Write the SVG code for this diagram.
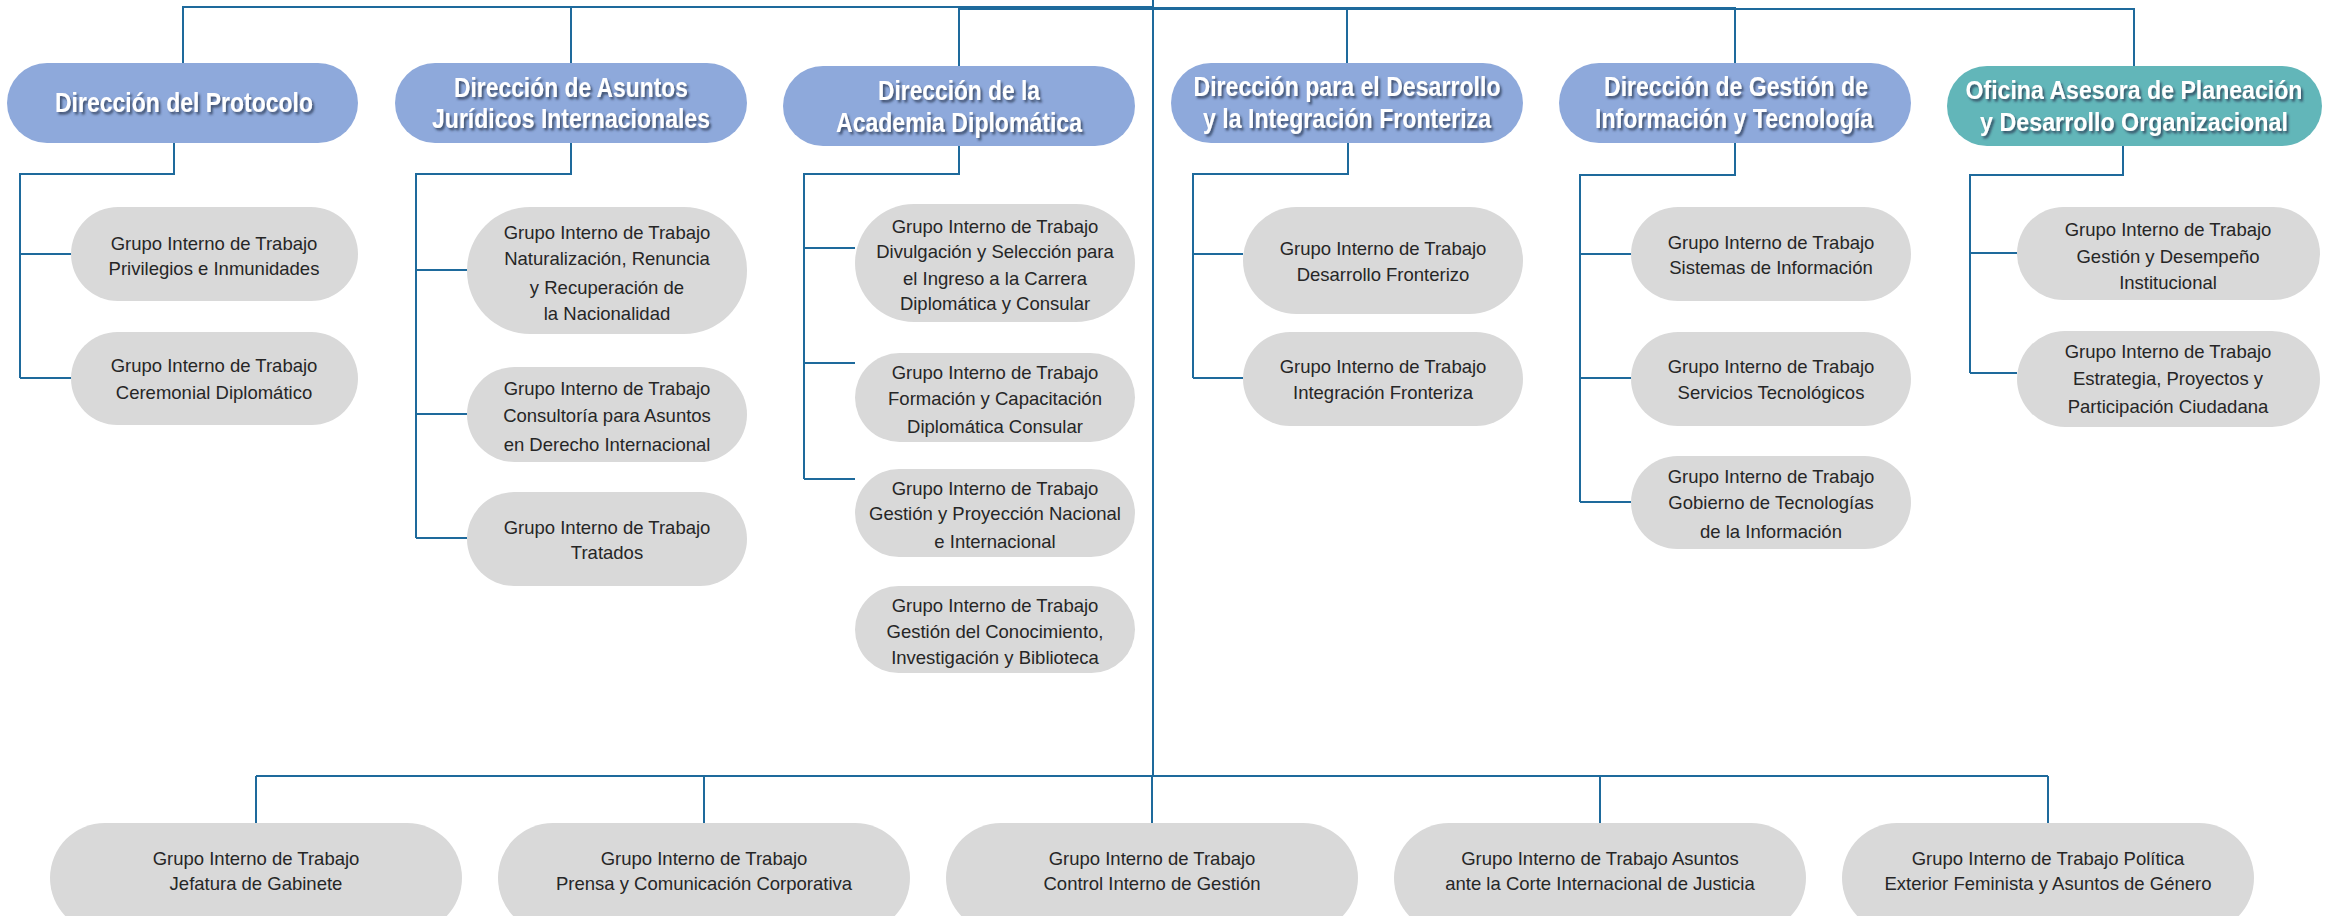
<svg xmlns="http://www.w3.org/2000/svg" width="2331" height="916" viewBox="0 0 2331 916">
<defs>
<filter id="ts" x="-10%" y="-30%" width="130%" height="180%">
<feDropShadow dx="2" dy="2.5" stdDeviation="1.2" flood-color="#2a3550" flood-opacity="0.75"/>
</filter>
<style>
.hd{fill:#8EA9DB}
.hd2{fill:#62B6B9}
.gb{fill:#D9D9D9}
.ht{font-family:"Liberation Sans Narrow","Liberation Sans",Arial,sans-serif;font-weight:bold;font-size:28px;fill:#ffffff;text-anchor:middle;filter:url(#ts)}
.ht6{font-size:25px}
.gt{font-family:"Liberation Sans",Arial,sans-serif;font-size:18.5px;fill:#262626;text-anchor:middle}
.cn{fill:none;stroke:#1E6A9C;stroke-width:2}
</style>
</defs>
<rect width="2331" height="916" fill="#ffffff"/>
<g id="connectors" class="cn">
<path d="M1153 0V776"/>
<path d="M1153 7H183V63"/>
<path d="M1153 7H571V63"/>
<path d="M1153 9H959V66"/>
<path d="M1153 8H1347V63"/>
<path d="M1153 8H1735V63"/>
<path d="M1153 9H2134V66"/>
<path d="M174 143V174H20V378M20 254H71M20 378H71"/>
<path d="M571 143V174H416V538M416 270H467M416 414H467M416 538H467"/>
<path d="M959 146V174H804V479M804 248H855M804 363H855M804 479H855"/>
<path d="M1348 143V174H1193V378M1193 254H1243M1193 378H1243"/>
<path d="M1735 143V175H1580V502M1580 254H1631M1580 378H1631M1580 502H1631"/>
<path d="M2123 146V175H1970V373M1970 253H2017M1970 373H2017"/>
<path d="M256 776H2048M256 776V823M704 776V823M1152 776V823M1600 776V823M2048 776V823"/>
</g>
<g id="h1"><rect class="hd" x="7" y="63" width="351" height="80" rx="40"/><text class="ht" x="184" y="112" textLength="258" lengthAdjust="spacingAndGlyphs">Dirección del Protocolo</text></g>
<g id="h2"><rect class="hd" x="395" y="63" width="352" height="80" rx="40"/><text class="ht" x="571" y="97" textLength="234" lengthAdjust="spacingAndGlyphs">Dirección de Asuntos</text><text class="ht" x="571" y="128" textLength="278" lengthAdjust="spacingAndGlyphs">Jurídicos Internacionales</text></g>
<g id="h3"><rect class="hd" x="783" y="66" width="352" height="80" rx="40"/><text class="ht" x="959" y="100" textLength="162" lengthAdjust="spacingAndGlyphs">Dirección de la</text><text class="ht" x="959" y="132" textLength="246" lengthAdjust="spacingAndGlyphs">Academia Diplomática</text></g>
<g id="h4"><rect class="hd" x="1171" y="63" width="352" height="80" rx="40"/><text class="ht" x="1347" y="96" textLength="307" lengthAdjust="spacingAndGlyphs">Dirección para el Desarrollo</text><text class="ht" x="1347" y="128" textLength="288" lengthAdjust="spacingAndGlyphs">y la Integración Fronteriza</text></g>
<g id="h5"><rect class="hd" x="1559" y="63" width="352" height="80" rx="40"/><text class="ht" x="1736" y="96" textLength="264" lengthAdjust="spacingAndGlyphs">Dirección de Gestión de</text><text class="ht" x="1734" y="128" textLength="278" lengthAdjust="spacingAndGlyphs">Información y Tecnología</text></g>
<g id="h6"><rect class="hd2" x="1947" y="66" width="375" height="80" rx="40"/><text class="ht ht6" x="2134" y="99" textLength="337" lengthAdjust="spacingAndGlyphs">Oficina Asesora de Planeación</text><text class="ht ht6" x="2134" y="131" textLength="308" lengthAdjust="spacingAndGlyphs">y Desarrollo Organizacional</text></g>

<g id="c1a"><rect class="gb" x="71" y="207" width="287" height="94" rx="47"/><text class="gt" x="214" y="250">Grupo Interno de Trabajo</text><text class="gt" x="214" y="275">Privilegios e Inmunidades</text></g>
<g id="c1b"><rect class="gb" x="71" y="332" width="287" height="93" rx="46.5"/><text class="gt" x="214" y="372">Grupo Interno de Trabajo</text><text class="gt" x="214" y="399">Ceremonial Diplomático</text></g>

<g id="c2a"><rect class="gb" x="467" y="207" width="280" height="127" rx="63"/><text class="gt" x="607" y="239">Grupo Interno de Trabajo</text><text class="gt" x="607" y="265">Naturalización, Renuncia</text><text class="gt" x="607" y="294">y Recuperación de</text><text class="gt" x="607" y="320">la Nacionalidad</text></g>
<g id="c2b"><rect class="gb" x="467" y="367" width="280" height="95" rx="47.5"/><text class="gt" x="607" y="395">Grupo Interno de Trabajo</text><text class="gt" x="607" y="422">Consultoría para Asuntos</text><text class="gt" x="607" y="451">en Derecho Internacional</text></g>
<g id="c2c"><rect class="gb" x="467" y="492" width="280" height="94" rx="47"/><text class="gt" x="607" y="534">Grupo Interno de Trabajo</text><text class="gt" x="607" y="559">Tratados</text></g>

<g id="c3a"><rect class="gb" x="855" y="204" width="280" height="118" rx="59"/><text class="gt" x="995" y="233">Grupo Interno de Trabajo</text><text class="gt" x="995" y="258">Divulgación y Selección para</text><text class="gt" x="995" y="285">el Ingreso a la Carrera</text><text class="gt" x="995" y="310">Diplomática y Consular</text></g>
<g id="c3b"><rect class="gb" x="855" y="353" width="280" height="89" rx="44.5"/><text class="gt" x="995" y="379">Grupo Interno de Trabajo</text><text class="gt" x="995" y="405">Formación y Capacitación</text><text class="gt" x="995" y="433">Diplomática Consular</text></g>
<g id="c3c"><rect class="gb" x="855" y="469" width="280" height="88" rx="44"/><text class="gt" x="995" y="495">Grupo Interno de Trabajo</text><text class="gt" x="995" y="520">Gestión y Proyección Nacional</text><text class="gt" x="995" y="548">e Internacional</text></g>
<g id="c3d"><rect class="gb" x="855" y="586" width="280" height="87" rx="43.5"/><text class="gt" x="995" y="612">Grupo Interno de Trabajo</text><text class="gt" x="995" y="638">Gestión del Conocimiento,</text><text class="gt" x="995" y="664">Investigación y Biblioteca</text></g>

<g id="c4a"><rect class="gb" x="1243" y="207" width="280" height="107" rx="53.5"/><text class="gt" x="1383" y="255">Grupo Interno de Trabajo</text><text class="gt" x="1383" y="281">Desarrollo Fronterizo</text></g>
<g id="c4b"><rect class="gb" x="1243" y="332" width="280" height="94" rx="47"/><text class="gt" x="1383" y="373">Grupo Interno de Trabajo</text><text class="gt" x="1383" y="399">Integración Fronteriza</text></g>

<g id="c5a"><rect class="gb" x="1631" y="207" width="280" height="94" rx="47"/><text class="gt" x="1771" y="249">Grupo Interno de Trabajo</text><text class="gt" x="1771" y="274">Sistemas de Información</text></g>
<g id="c5b"><rect class="gb" x="1631" y="332" width="280" height="94" rx="47"/><text class="gt" x="1771" y="373">Grupo Interno de Trabajo</text><text class="gt" x="1771" y="399">Servicios Tecnológicos</text></g>
<g id="c5c"><rect class="gb" x="1631" y="456" width="280" height="93" rx="46.5"/><text class="gt" x="1771" y="483">Grupo Interno de Trabajo</text><text class="gt" x="1771" y="509">Gobierno de Tecnologías</text><text class="gt" x="1771" y="538">de la Información</text></g>

<g id="c6a"><rect class="gb" x="2017" y="207" width="303" height="93" rx="46.5"/><text class="gt" x="2168" y="236">Grupo Interno de Trabajo</text><text class="gt" x="2168" y="263">Gestión y Desempeño</text><text class="gt" x="2168" y="289">Institucional</text></g>
<g id="c6b"><rect class="gb" x="2017" y="331" width="303" height="96" rx="48"/><text class="gt" x="2168" y="358">Grupo Interno de Trabajo</text><text class="gt" x="2168" y="385">Estrategia, Proyectos y</text><text class="gt" x="2168" y="413">Participación Ciudadana</text></g>

<g id="b1"><rect class="gb" x="50" y="823" width="412" height="110" rx="55"/><text class="gt" x="256" y="865">Grupo Interno de Trabajo</text><text class="gt" x="256" y="890">Jefatura de Gabinete</text></g>
<g id="b2"><rect class="gb" x="498" y="823" width="412" height="110" rx="55"/><text class="gt" x="704" y="865">Grupo Interno de Trabajo</text><text class="gt" x="704" y="890">Prensa y Comunicación Corporativa</text></g>
<g id="b3"><rect class="gb" x="946" y="823" width="412" height="110" rx="55"/><text class="gt" x="1152" y="865">Grupo Interno de Trabajo</text><text class="gt" x="1152" y="890">Control Interno de Gestión</text></g>
<g id="b4"><rect class="gb" x="1394" y="823" width="412" height="110" rx="55"/><text class="gt" x="1600" y="865">Grupo Interno de Trabajo Asuntos</text><text class="gt" x="1600" y="890">ante la Corte Internacional de Justicia</text></g>
<g id="b5"><rect class="gb" x="1842" y="823" width="412" height="110" rx="55"/><text class="gt" x="2048" y="865">Grupo Interno de Trabajo Política</text><text class="gt" x="2048" y="890">Exterior Feminista y Asuntos de Género</text></g>
</svg>
